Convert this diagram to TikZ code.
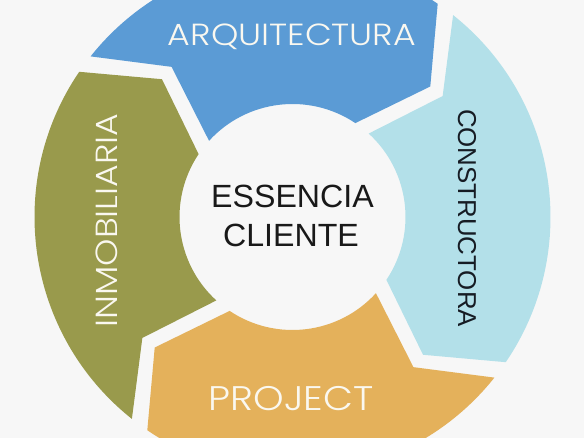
\documentclass[tikz,border=0pt]{standalone}
\usepackage{fontspec}
\setmainfont{Liberation Sans}
\newfontfamily\thinfont[FakeStretch=1.14]{Poppins Light}
\definecolor{bgc}{HTML}{F7F7F7}
\definecolor{cblue}{HTML}{5B9BD5}
\definecolor{clight}{HTML}{B3E0E9}
\definecolor{corange}{HTML}{E4B15B}
\definecolor{cgreen}{HTML}{999A4C}
\definecolor{wtxt}{HTML}{FAF8F0}
\definecolor{dtxt}{HTML}{161C24}
\tikzset{
  wtext/.style={text=wtxt, inner sep=0pt, anchor=base, font=\thinfont\fontsize{22.9}{26}\selectfont},
  dtext/.style={text=dtxt, inner sep=0pt, anchor=base, font=\fontsize{19.4}{24}\selectfont},
  ctext/.style={text=black!90, inner sep=0pt, anchor=base, font=\fontsize{24.1}{28}\selectfont}
}
\begin{document}
\begin{tikzpicture}[x=0.75pt,y=0.75pt]
\useasboundingbox (-292.5,-221) rectangle (291.5,217);
\fill[bgc] (-292.5,-221) rectangle (291.5,217);
\clip (-292.5,-221) rectangle (291.5,217);
\foreach \k/\c in {0/cblue,1/clight,2/corange,3/cgreen}{
  \pgfmathsetmacro\ta{141.5-90*\k}
  \pgfmathsetmacro\hb{55.75-90*\k}
  \pgfmathsetmacro\hp{43.45-90*\k}
  \pgfmathsetmacro\hi{56.2-90*\k}
  \pgfmathsetmacro\ti{137.6-90*\k}
  \pgfmathsetmacro\tp{128.85-90*\k}
  \fill[\c] (\ta:258) arc[start angle=\ta, end angle=\hb, radius=258]
    -- (\hp:189.8) -- (\hi:113) arc[start angle=\hi, end angle=\ti, radius=113]
    -- (\tp:192.8) -- cycle;
}
\node[wtext] (arq) at (-0.5,171.5) {ARQUITECTURA};
\node[dtext, rotate=-90] (cons) at (165.5,-1) {CONSTRUCTORA};
\node[wtext, font=\thinfont\fontsize{25.6}{30}\selectfont] (proj) at (-1.5,-193) {PROJECT};
\node[wtext, rotate=90] (inmo) at (-174.5,-3.5) {INMOBILIARIA};
\node[ctext] (ess) at (0,9) {ESSENCIA};
\node[ctext] (cli) at (-1.5,-30) {CLIENTE};
\end{tikzpicture}
\end{document}
